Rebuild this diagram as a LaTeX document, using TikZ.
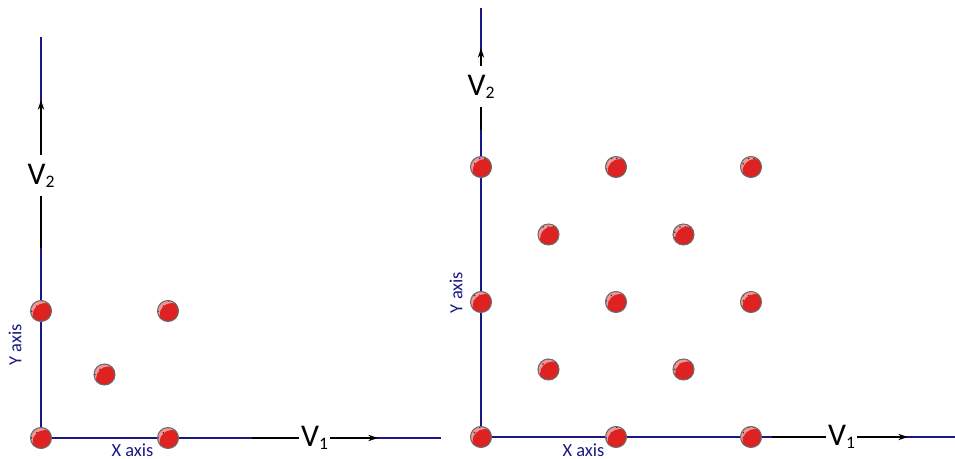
\documentclass[tikz,border=0pt]{standalone}
\usepackage{fontspec}
\setmainfont{Carlito}
\usepackage{tikz}
\usetikzlibrary{arrows.meta,patterns}
\def\axisedge{0.7}
\def\vecedge{0.8}
\def\ballrad{0.21}
\definecolor{axisblue}{rgb}{0.1,0.1,0.52}
\definecolor{ballred}{rgb}{0.87,0.13,0.13}
\definecolor{ballpink}{rgb}{0.93,0.6,0.6}
\definecolor{ballgray}{rgb}{0.42,0.42,0.42}
\newcommand{\vsub}[2]{#1\raisebox{-0.1em}{\fontsize{10}{10}\selectfont #2}}
\tikzset{
  ball/.style={draw=ballgray, line width=0.6pt, fill=ballred,
    path picture={
      \fill[ballpink] (path picture bounding box.south west) rectangle (path picture bounding box.north east);
      \fill[pattern=dots, pattern color=black!80] (path picture bounding box.south west) rectangle (path picture bounding box.north east);
      \fill[ballred] ([shift={(0.08,-0.09)}]path picture bounding box.center) circle (0.25);
    }},
  veclabel/.style={fill=white, inner xsep=1pt, inner ysep=5pt, font=\fontsize{18}{18}\selectfont},
  axislabel/.style={text=axisblue, inner sep=0pt, font=\fontsize{10.5}{12}\selectfont}
}

\begin{document}
\begin{tikzpicture}[x = 1cm, y = 1cm, scale = 1]
            \useasboundingbox (0,0) rectangle (19.1,9.18);
            
            % left lattice
            \coordinate (o) at (0.82,0.42);
            \coordinate (yt) at (0.82,8.44);
            \coordinate (xt) at (8.82,0.42);
            
            \draw [line width=\axisedge, color=axisblue] (yt) -- (o) -- (xt);
            
            \coordinate (v2s) at (0.82,4.22);
            \coordinate (v2e) at (0.82,7.18);
            \node[veclabel] (v2) at (0.82,5.67){\vsub{V}{2}};
            
            \coordinate (v1s) at (5.04,0.42);
            \coordinate (v1e) at (7.56,0.42);
            \node[veclabel] (v1) at (6.29,0.42){\vsub{V}{1}};
            
            \draw [line width=\vecedge] (v2s) -- (v2);
            \draw [line width=\vecedge, -{Stealth[length=5.5pt,width=3.6pt]}] (v2) -- (v2e);
            \draw [line width=\vecedge] (v1s) -- (v1);
            \draw [line width=\vecedge, -{Stealth[length=5.5pt,width=3.6pt]}] (v1) -- (v1e);
            
            \node[axislabel] (xl) at (2.65,0.18){X axis};
            \node[axislabel, rotate=90] (yl) at (0.3,2.28){Y axis};
            
            \coordinate (a1) at (0.82,0.42);
            \coordinate (a2) at (3.36,0.42);
            \coordinate (a3) at (2.09,1.69);
            \coordinate (a4) at (0.82,2.96);
            \coordinate (a5) at (3.36,2.96);
            
            \draw [ball] (a1) circle (\ballrad);
            \draw [ball] (a2) circle (\ballrad);
            \draw [ball] (a3) circle (\ballrad);
            \draw [ball] (a4) circle (\ballrad);
            \draw [ball] (a5) circle (\ballrad);
            
            % right lattice
            \coordinate (o') at (9.62,0.44);
            \coordinate (yt') at (9.62,9.02);
            \coordinate (xt') at (19.1,0.44);
            
            \draw [line width=\axisedge, color=axisblue] (yt') -- (o') -- (xt');
            
            \coordinate (v2s') at (9.62,6.58);
            \coordinate (v2e') at (9.62,8.22);
            \node[veclabel] (v2') at (9.62,7.45){\vsub{V}{2}};
            
            \coordinate (v1s') at (15.44,0.44);
            \coordinate (v1e') at (18.16,0.44);
            \node[veclabel] (v1') at (16.83,0.44){\vsub{V}{1}};
            
            \draw [line width=\vecedge] (v2s') -- (v2');
            \draw [line width=\vecedge, -{Stealth[length=5.5pt,width=3.6pt]}] (v2') -- (v2e');
            \draw [line width=\vecedge] (v1s') -- (v1');
            \draw [line width=\vecedge, -{Stealth[length=5.5pt,width=3.6pt]}] (v1') -- (v1e');
            
            \node[axislabel] (xl') at (11.67,0.18){X axis};
            \node[axislabel, rotate=90] (yl') at (9.12,3.33){Y axis};
            
            \coordinate (b1) at (9.62,0.44);
            \coordinate (b2) at (12.32,0.44);
            \coordinate (b3) at (15.02,0.44);
            \coordinate (b4) at (9.62,3.14);
            \coordinate (b5) at (12.32,3.14);
            \coordinate (b6) at (15.02,3.14);
            \coordinate (b7) at (9.62,5.84);
            \coordinate (b8) at (12.32,5.84);
            \coordinate (b9) at (15.02,5.84);
            \coordinate (c1) at (10.97,1.79);
            \coordinate (c2) at (13.67,1.79);
            \coordinate (c3) at (10.97,4.49);
            \coordinate (c4) at (13.67,4.49);
            
            \draw [ball] (b1) circle (\ballrad);
            \draw [ball] (b2) circle (\ballrad);
            \draw [ball] (b3) circle (\ballrad);
            \draw [ball] (b4) circle (\ballrad);
            \draw [ball] (b5) circle (\ballrad);
            \draw [ball] (b6) circle (\ballrad);
            \draw [ball] (b7) circle (\ballrad);
            \draw [ball] (b8) circle (\ballrad);
            \draw [ball] (b9) circle (\ballrad);
            \draw [ball] (c1) circle (\ballrad);
            \draw [ball] (c2) circle (\ballrad);
            \draw [ball] (c3) circle (\ballrad);
            \draw [ball] (c4) circle (\ballrad);
            
        \end{tikzpicture}
\end{document}
